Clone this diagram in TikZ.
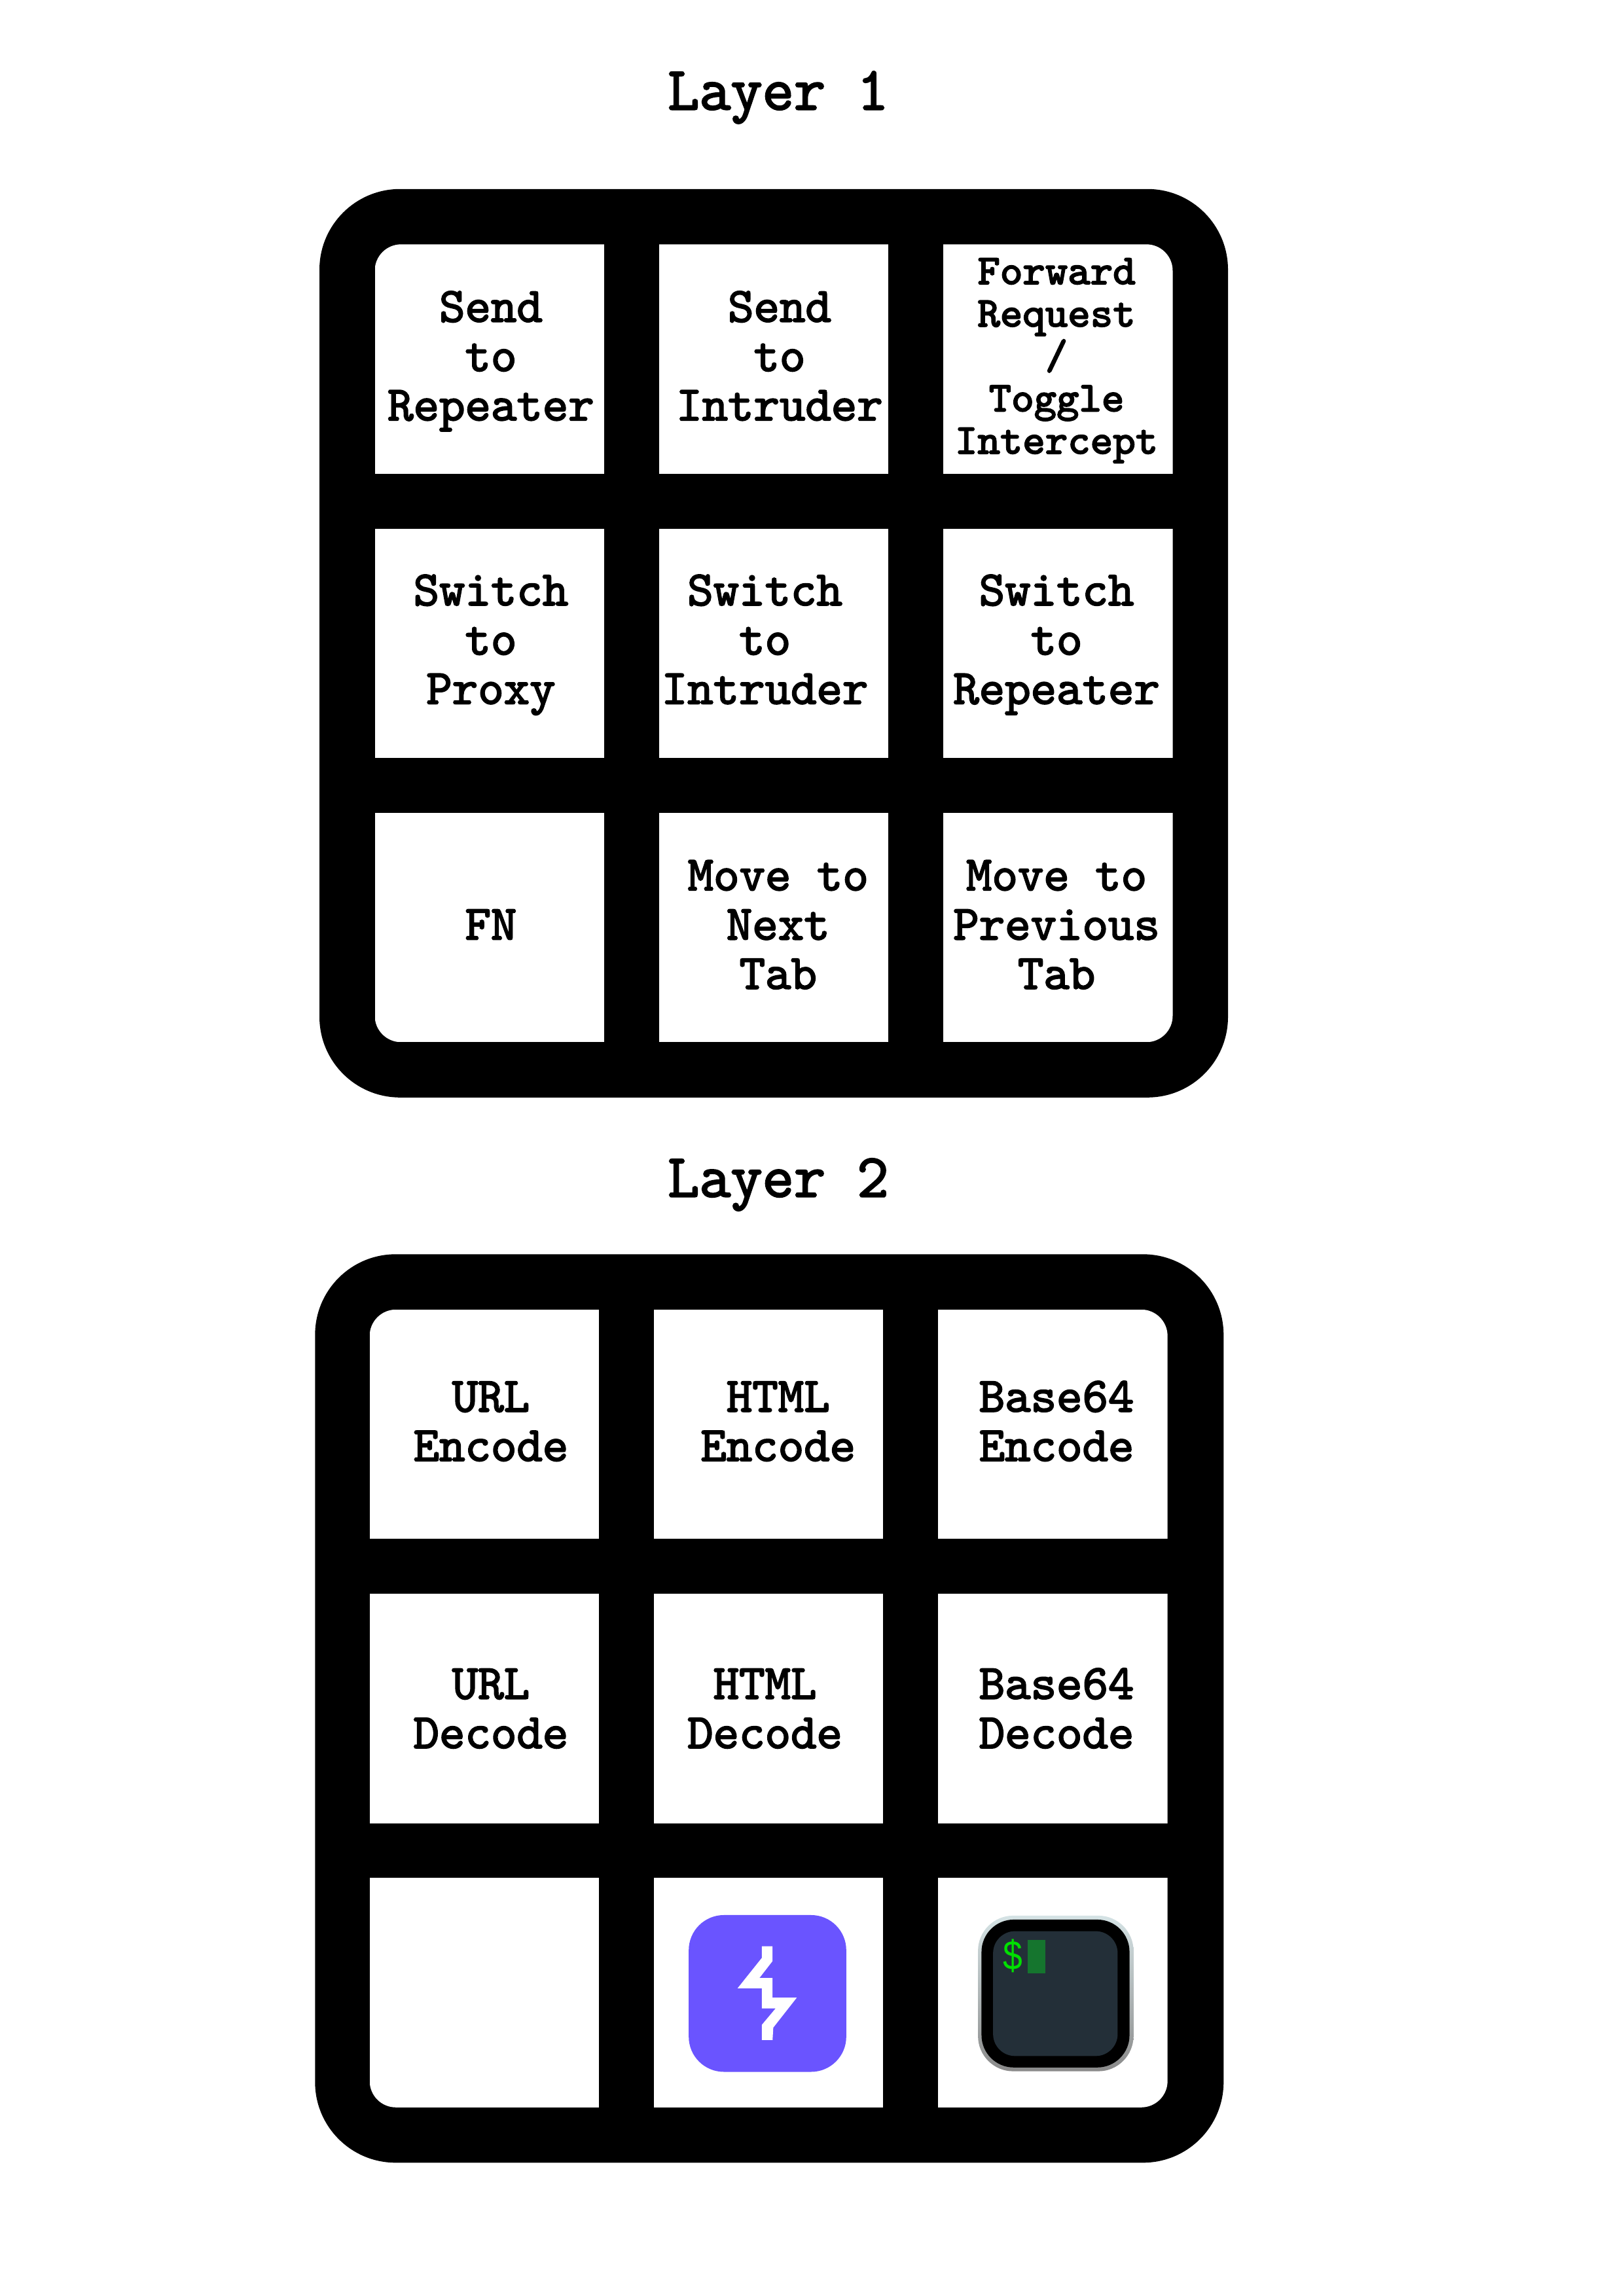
\documentclass[tikz,border=0pt]{standalone}
\usepackage{fontspec}
\setsansfont{Liberation Sans}
\setmonofont{Latin Modern Mono}[FakeBold=2.6]
\definecolor{boltblue}{HTML}{6A54FF}
\definecolor{termscreen}{HTML}{232F38}
\definecolor{termcursor}{HTML}{15752E}
\definecolor{termgreen}{HTML}{00E000}
\definecolor{termlight}{HTML}{D5E3E5}
\definecolor{termdark}{HTML}{8A8A8A}
\tikzset{
    title/.style={inner sep=0, font=\ttfamily\fontsize{11.9}{13}\selectfont},
    panel/.style={fill=black, inner sep=0, minimum size=6.2cm, rounded corners=.55cm},
    keycell/.style={fill=white, inner sep=0, minimum size=1.565cm},
    keytext/.style={inner sep=0, align=center, font=\ttfamily\fontsize{9.55}{9.57}\selectfont},
    smalltext/.style={keytext, font=\ttfamily\fontsize{8.25}{8.23}\selectfont},
}

\begin{document}
\begin{tikzpicture}[x=1cm, y=-1cm]
        \useasboundingbox (0,0) rectangle (11.08,15.67);

        \node [title] (title1) at (5.31,0.665) {Layer 1};
        \node [title] (title2) at (5.31,8.085) {Layer 2};
        \node [panel] (panel1) at (5.28,4.39) {};
        \node [panel] (panel2) at (5.25,11.66) {};

        \foreach \lay/\dx/\dy in {a/0/0, b/-0.035/7.27}
        {
            \begin{scope}
                % only the outer corners of the pad are round
                \clip [rounded corners=.18cm] (2.5575+\dx,1.6675+\dy) rectangle (8.0025+\dx,7.1125+\dy);
                \foreach \row/\y in {1/2.45, 2/4.39, 3/6.33}
                {
                    \foreach \col/\x in {1/3.34, 2/5.28, 3/7.22}
                    {
                        \node [keycell] (\lay\row\col) at (\x+\dx,\y+\dy) {};
                    }
                }
            \end{scope}
        }

        \foreach \name/\x/\y/\txt in {
            a11/3.35/2.465/{Send\\to\\Repeater}, a12/5.32/2.465/{Send\\to\\Intruder},
            a21/3.35/4.40/{Switch\\to\\Proxy}, a22/5.22/4.40/{Switch\\to\\Intruder}, a23/7.21/4.40/{Switch\\to\\Repeater},
            a31/3.35/6.345/{FN}, a32/5.31/6.345/{Move to\\Next\\Tab}, a33/7.21/6.345/{Move to\\Previous\\Tab},
            b11/3.35/9.735/{URL\\Encode}, b12/5.31/9.735/{HTML\\Encode}, b13/7.21/9.735/{Base64\\Encode},
            b21/3.35/11.695/{URL\\Decode}, b22/5.22/11.695/{HTML\\Decode}, b23/7.21/11.695/{Base64\\Decode}}
        {
            \node [keytext] (\name text) at (\x,\y) {\strut\txt\strut};
        }
        \node [smalltext] (a13text) at (7.21,2.46) {\strut Forward\\Request\\/\\Toggle\\Intercept\strut};

        % bolt icon
        \fill [boltblue, rounded corners=.24cm] (4.70,13.07) rectangle (5.775,14.14);
        \fill [white] (5.199,13.283) -- (5.272,13.283) -- (5.272,13.384) -- (5.182,13.50) -- (5.272,13.50) -- (5.272,13.634) -- (5.437,13.634) -- (5.277,13.838) -- (5.272,13.923) -- (5.199,13.923) -- (5.199,13.819) -- (5.293,13.707) -- (5.199,13.707) -- (5.199,13.57) -- (5.033,13.57) -- (5.199,13.362) -- cycle;

        % terminal icon
        \shade [top color=termlight, bottom color=termdark, rounded corners=.24cm] (6.674,13.074) rectangle (7.735,14.136);
        \fill [black, rounded corners=.22cm] (6.698,13.101) rectangle (7.708,14.11);
        \fill [termscreen, rounded corners=.15cm] (6.777,13.18) rectangle (7.627,14.032);
        \fill [termcursor] (7.015,13.238) rectangle (7.132,13.467);
        \node [inner sep=0, xscale=.85, text=termgreen, font=\sffamily\fontsize{8}{8}\selectfont] (dollar) at (6.91,13.35) {\$};
    \end{tikzpicture}
\end{document}
